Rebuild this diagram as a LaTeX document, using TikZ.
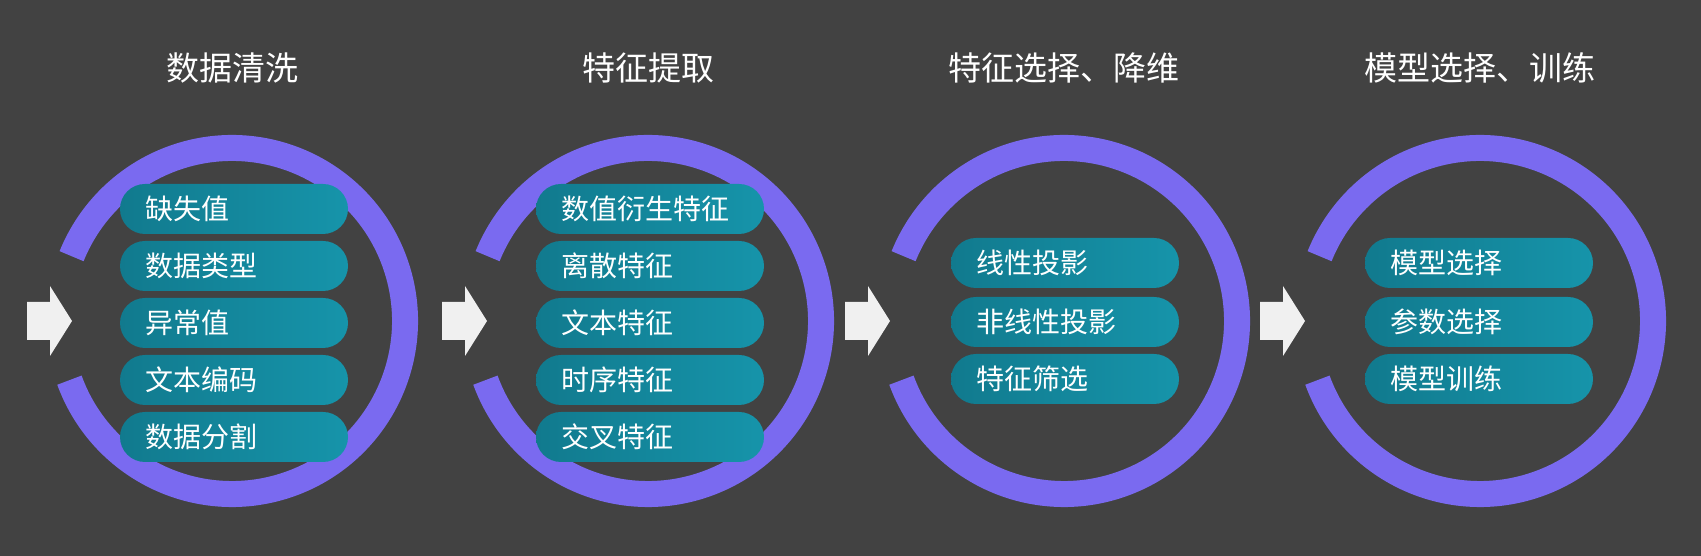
\documentclass[tikz,border=0pt]{standalone}
\usepackage{fontspec}
\setmainfont{Noto Sans CJK SC}
\definecolor{hinter}{HTML}{424242}
\definecolor{ringlila}{HTML}{7A6AF0}
\definecolor{pilllinks}{HTML}{117A8E}
\definecolor{pillrechts}{HTML}{1694AA}
\definecolor{pfeilgrau}{HTML}{F0F0F0}
\begin{document}
\begin{tikzpicture}
[x=1pt, y=1pt,
 titel/.style={text=white, font=\fontsize{33}{33}\selectfont},
 ring/.style={draw=ringlila, line width=26pt},
 pill/.style={rounded corners=25pt, left color=pilllinks, right color=pillrechts, text=white, font=\fontsize{28}{28}\selectfont, minimum height=50pt, text width=178pt, inner xsep=25pt, inner ysep=0pt, align=left},
 pfeil/.style={fill=pfeilgrau}]
\fill [hinter] (0,0) rectangle (1701,556);
\useasboundingbox (0,0) rectangle (1701,556);
% titles
\node [titel] (t1) at (232,488) {数据清洗};
\node [titel] (t2) at (648,488) {特征提取};
\node [titel] (t3) at (1064,488) {特征选择、降维};
\node [titel] (t4) at (1480,488) {模型选择、训练};
% rings
\draw [ring] (232,235) ++(-160:173) arc [start angle=-160, end angle=158, radius=173];
\draw [ring] (648,235) ++(-160:173) arc [start angle=-160, end angle=158, radius=173];
\draw [ring] (1064,235) ++(-160:173) arc [start angle=-160, end angle=158, radius=173];
\draw [ring] (1480,235) ++(-160:173) arc [start angle=-160, end angle=158, radius=173];
% arrows
\fill [pfeil] (27,216) -- ++(23,0) -- ++(0,-16) -- ++(22,35) -- ++(-22,35) -- ++(0,-16) -- ++(-23,0) -- cycle;
\fill [pfeil] (442,216) -- ++(23,0) -- ++(0,-16) -- ++(22,35) -- ++(-22,35) -- ++(0,-16) -- ++(-23,0) -- cycle;
\fill [pfeil] (845,216) -- ++(23,0) -- ++(0,-16) -- ++(22,35) -- ++(-22,35) -- ++(0,-16) -- ++(-23,0) -- cycle;
\fill [pfeil] (1260,216) -- ++(23,0) -- ++(0,-16) -- ++(22,35) -- ++(-22,35) -- ++(0,-16) -- ++(-23,0) -- cycle;
% data cleaning
\node [pill] (p11) at (234,347) {缺失值};
\node [pill] (p12) at (234,290) {数据类型};
\node [pill] (p13) at (234,233) {异常值};
\node [pill] (p14) at (234,176) {文本编码};
\node [pill] (p15) at (234,119) {数据分割};
% feature extraction
\node [pill] (p21) at (650,347) {数值衍生特征};
\node [pill] (p22) at (650,290) {离散特征};
\node [pill] (p23) at (650,233) {文本特征};
\node [pill] (p24) at (650,176) {时序特征};
\node [pill] (p25) at (650,119) {交叉特征};
% selection
\node [pill] (p31) at (1065,293) {线性投影};
\node [pill] (p32) at (1065,234) {非线性投影};
\node [pill] (p33) at (1065,177) {特征筛选};
% model
\node [pill] (p41) at (1479,293) {模型选择};
\node [pill] (p42) at (1479,234) {参数选择};
\node [pill] (p43) at (1479,177) {模型训练};
\end{tikzpicture}
\end{document}
